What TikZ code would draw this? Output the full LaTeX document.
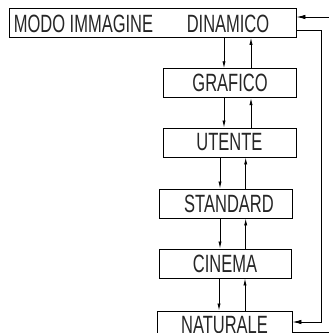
\documentclass[tikz,border=0pt]{standalone}
\usepackage{fontspec}
\setmainfont[FakeStretch=0.66]{Liberation Sans}
\usetikzlibrary{arrows.meta}
\tikzset{
  box/.style={draw=black, line width=0.9pt, rectangle, inner sep=0pt, minimum height=29pt, font=\fontsize{25}{25}\selectfont, text=black!85},
  lbl/.style={inner sep=0pt, font=\fontsize{25}{25}\selectfont, text=black!85},
  link/.style={draw=black, line width=0.8pt, -{Latex[length=7pt,width=3.2pt]}},
  loop/.style={draw=black, line width=0.9pt},
  looparrow/.style={loop, -{Latex[length=9pt,width=4.5pt]}}
}
\begin{document}
\begin{tikzpicture}[x=1pt,y=-1pt]
\useasboundingbox (0,0) rectangle (329,333);
\clip (0,0) rectangle (329,333);
% boxes
\node[box, minimum width=287pt, minimum height=29.3pt] (top) at (152.5,22.7) {};
\node[lbl, anchor=base] (modo) at (83.5,32) {MODO IMMAGINE};
\node[lbl, anchor=base] (dina) at (228,32) {DINAMICO};
\node[box, minimum width=133.7pt] (graf) at (230,83.2) {GRAFICO};
\node[box, minimum width=133pt] (uten) at (229.5,142.5) {UTENTE};
\node[box, minimum width=133pt] (stan) at (225.5,203.5) {\hspace{7pt}STANDARD};
\node[box, minimum width=132pt] (cine) at (225,263.5) {CINEMA};
\node[box, minimum width=135pt] (natu) at (224.5,325.5) {NATURALE};
% vertical arrow pairs
\draw[link] (top.south -| 224,0) -- (graf.north -| 224,0);
\draw[link] (graf.north -| 251,0) -- (top.south -| 251,0);
\draw[link] (graf.south -| 224,0) -- (uten.north -| 224,0);
\draw[link] (uten.north -| 251,0) -- (graf.south -| 251,0);
\draw[link] (uten.south -| 220,0) -- (stan.north -| 220,0);
\draw[link] (stan.north -| 245.7,0) -- (uten.south -| 245.7,0);
\draw[link] (stan.south -| 220,0) -- (cine.north -| 220,0);
\draw[link] (cine.north -| 245.7,0) -- (stan.south -| 245.7,0);
\draw[link] (cine.south -| 219,0) -- (natu.north -| 219,0);
\draw[link] (natu.north -| 245,0) -- (cine.south -| 245,0);
% right loop
\coordinate (c1) at (321,30);
\coordinate (c2) at (321,322);
\coordinate (inR) at (329,17);
\coordinate (outR) at (329,332);
\draw[looparrow] (top.east |- c1) -- (c1) -- (c2) -- (natu.east |- c2);
\draw[loop] (natu.east |- outR) -- (outR);
\draw[looparrow] (inR) -- (top.east |- inR);
\end{tikzpicture}
\end{document}
